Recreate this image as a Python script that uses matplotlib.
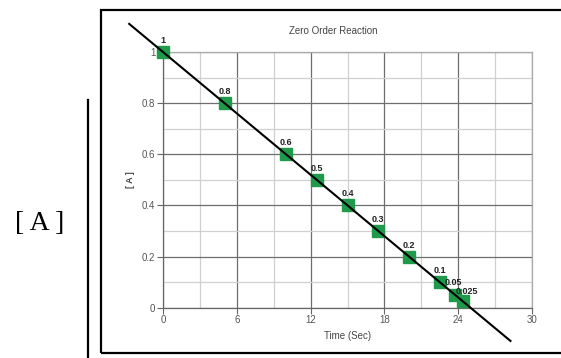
import matplotlib
matplotlib.use("Agg")
import matplotlib.pyplot as plt
from matplotlib.lines import Line2D
from matplotlib.patches import Rectangle
from matplotlib.ticker import MultipleLocator

plt.rcParams['font.family'] = ['Liberation Sans', 'DejaVu Sans']

# concentration of A over time
time_sec = [0, 5, 10, 12.5, 15, 17.5, 20, 22.5, 23.75, 24.375]
conc = [1, 0.8, 0.6, 0.5, 0.4, 0.3, 0.2, 0.1, 0.05, 0.025]
point_labels = ["1", "0.8", "0.6", "0.5", "0.4", "0.3", "0.2", "0.1", "0.05", "0.025"]

# fitted line [A] = A0 - k t
a0 = 1.0
k = 0.04
fit_t = [-2.75, 28.25]

W, H = 561, 358
fig = plt.figure(figsize=(W / 100, H / 100), dpi=100)
ax = fig.add_axes([163 / W, 1 - 307.7 / H, (532 - 163) / W, (307.7 - 52) / H])

ax.set_xlim(0, 30)
ax.set_ylim(0, 1)
ax.xaxis.set_major_locator(MultipleLocator(6))
ax.xaxis.set_minor_locator(MultipleLocator(3))
ax.yaxis.set_minor_locator(MultipleLocator(0.1))
ax.set_yticks([0, 0.2, 0.4, 0.6, 0.8, 1])
ax.set_yticklabels(["0", "0.2", "0.4", "0.6", "0.8", "1"])
ax.grid(which='major', color='#6e6e6e', linewidth=0.9)
ax.grid(which='minor', color='#d0d0d0', linewidth=0.9)
ax.set_axisbelow(True)
ax.tick_params(which='major', length=4, width=0.8, color='#666666',
               labelsize=7, labelcolor='#555555', pad=1.5)
ax.tick_params(which='minor', length=0)
for side in ['left', 'bottom']:
    ax.spines[side].set_color('#666666')
    ax.spines[side].set_linewidth(0.9)
for side in ['top', 'right']:
    ax.spines[side].set_color('#aaaaaa')
    ax.spines[side].set_linewidth(0.9)

ax.plot(time_sec, conc, linestyle='none', marker='s', markersize=9,
        color='#1e9a4a', zorder=3, clip_on=False)
fit_c = [a0 - k * t for t in fit_t]
ax.plot(fit_t, fit_c, color='black', linewidth=1.5, zorder=4, clip_on=False)

for t, c, lab in zip(time_sec, conc, point_labels):
    dx, dy = 0, 5
    if lab == "0.05":
        dx, dy = -1, 6
    if lab == "0.025":
        dx, dy = 3, 4
    ax.annotate(lab, (t, c), xytext=(dx, dy), textcoords='offset points',
                ha='center', va='bottom', fontsize=6.5, fontweight='bold',
                color='#222222', zorder=5, annotation_clip=False)

ax.set_xlabel("Time (Sec)", fontsize=7, color='#444444', labelpad=4)
ax.set_ylabel("[ A ]", fontsize=6.5, color='#444444', fontweight='bold', labelpad=5)
fig.text(333 / W, 1 - 31 / H, "Zero Order Reaction", ha='center', va='center',
         fontsize=7, color='#444444')

# frame around the chart
fig.patches.append(Rectangle((101 / W, 1 - 353 / H), (564 - 101) / W, (353 - 10) / H,
                             transform=fig.transFigure, fill=False,
                             edgecolor='black', linewidth=1.6))
# axis bar and label on the left
fig.lines.append(Line2D([88 / W, 88 / W], [1 - 100 / H, -0.01],
                        transform=fig.transFigure, color='black', linewidth=1.6))
fig.text(40 / W, 1 - 223 / H, "[ A ]", ha='center', va='center',
         fontsize=20, family='Liberation Serif', color='black')

fig.savefig("out.png", dpi=100)
